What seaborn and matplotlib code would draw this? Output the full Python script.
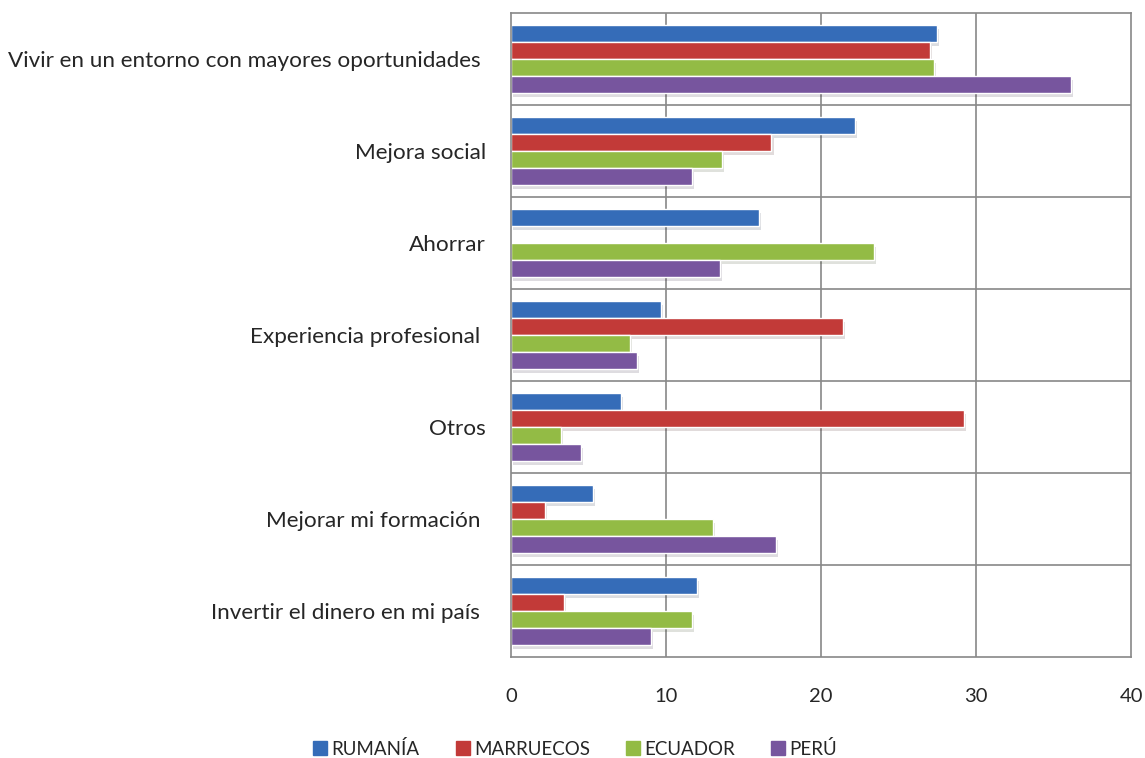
import pandas as pd
import numpy as np
import matplotlib.pyplot as plt
import matplotlib.patheffects as pe
from matplotlib.lines import Line2D
import seaborn as sns

# Data
categories = ['Vivir en un entorno con mayores oportunidades ',
              'Mejora social',
              'Ahorrar',
              'Experiencia profesional ',
              'Otros',
              'Mejorar mi formación ',
              'Invertir el dinero en mi país ']
countries = ['RUMANÍA', 'MARRUECOS', 'ECUADOR', 'PERÚ']
rumania = [27.5, 22.2, 16.0, 9.7, 7.1, 5.3, 12.0]
marruecos = [27.0, 16.8, 0.0, 21.4, 29.2, 2.2, 3.4]
ecuador = [27.3, 13.6, 23.4, 7.7, 3.2, 13.0, 11.7]
peru = [36.1, 11.7, 13.5, 8.1, 4.5, 17.1, 9.0]
colors = ['#356cb8', '#c23a38', '#93bb45', '#77559e']

df = pd.DataFrame({'Motivo': categories * 4,
                   'Pais': np.repeat(countries, len(categories)),
                   'Valor': rumania + marruecos + ecuador + peru})

sns.set_style('white')
plt.rcParams['font.family'] = ['Lato', 'DejaVu Sans']

fig = plt.figure(figsize=(11.45, 7.58), dpi=100)
ax = fig.add_axes([0.4463, 0.1332, 0.5415, 0.8496])

sns.barplot(data=df, x='Valor', y='Motivo', hue='Pais', order=categories,
            hue_order=countries, palette=colors, orient='h', width=0.74,
            saturation=1, legend=False, ax=ax)

for bar in ax.patches:
    bar.set_path_effects([pe.SimplePatchShadow(offset=(1.5, -3), alpha=0.15), pe.Normal()])

ax.set_xlim(0, 40)
ax.set_ylim(len(categories) - 0.5, -0.5)
ax.set_xticks([0, 10, 20, 30, 40])
ax.set_yticks(np.arange(len(categories)))
ax.set_yticklabels(categories)
ax.set_xlabel('')
ax.set_ylabel('')
ax.tick_params(axis='x', length=0, pad=22, labelsize=14.5)
ax.tick_params(axis='y', length=0, pad=18, labelsize=16.2)

# grid: vertical at ticks, horizontal between categories
for x in [10, 20, 30]:
    ax.axvline(x, color='#888888', lw=1.2, zorder=0)
for y in np.arange(0.5, len(categories) - 1, 1):
    ax.axhline(y, color='#888888', lw=1.2, zorder=0)
for s in ax.spines.values():
    s.set_visible(True)
    s.set_color('#888888')
    s.set_linewidth(1.2)

handles = [Line2D([], [], marker='s', linestyle='', markersize=10, color=c) for c in colors]
fig.legend(handles, countries, loc='center', bbox_to_anchor=(0.502, 0.012), ncol=4,
           frameon=False, fontsize=13.5, handletextpad=0.2, columnspacing=1.9,
           handlelength=0.8)

plt.savefig('out.png', dpi=100)
